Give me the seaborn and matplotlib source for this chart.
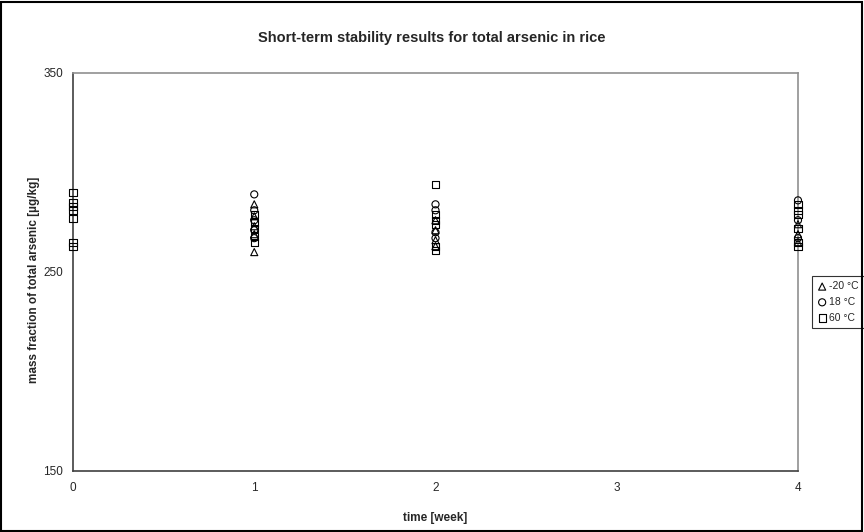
import matplotlib
matplotlib.use("Agg")
import matplotlib.pyplot as plt
import seaborn as sns
import pandas as pd
from matplotlib.patches import Rectangle

# ---- data ----
title = "Short-term stability results for total arsenic in rice"
x_label = "time [week]"
y_label = "mass fraction of total arsenic [µg/kg]"
series_names = ["-20 °C", "18 °C", "60 °C"]
series_markers = ["^", "o", "s"]

t_minus20 = [1, 1, 1, 1, 1, 2, 2, 2, 2, 4, 4, 4]
v_minus20 = [284, 278, 273, 269, 260, 276, 271, 266, 263, 274, 269, 265]

t_18 = [1, 1, 1, 1, 1, 2, 2, 2, 2, 4, 4, 4]
v_18 = [289, 281, 276, 271, 267, 284, 281, 270, 267, 286, 276, 267]

t_60 = [0, 0, 0, 0, 0, 0, 0, 1, 1, 1, 1, 1, 2, 2, 2, 2, 2, 2, 4, 4, 4, 4, 4, 4]
v_60 = [290, 285, 283, 281, 277, 265, 263, 279, 275, 272, 268, 265,
        294, 279, 276, 274, 263, 261, 284, 281, 279, 272, 265, 263]

x_ticks = [0, 1, 2, 3, 4]
y_ticks = [150, 250, 350]

frames = []
for name, t, v in zip(series_names, [t_minus20, t_18, t_60], [v_minus20, v_18, v_60]):
    frames.append(pd.DataFrame({"time": t, "value": v, "series": name}))
df = pd.concat(frames, ignore_index=True)

# ---- figure ----
sns.set_style("white")
plt.rcParams["font.family"] = ["Liberation Sans", "DejaVu Sans"]

fig = plt.figure(figsize=(8.64, 5.32), dpi=100)
ax = fig.add_axes([0.0845, 0.1147, 0.8391, 0.7481])

for name, mk in zip(series_names, series_markers):
    sub = df[df["series"] == name]
    sns.scatterplot(data=sub, x="time", y="value", marker=mk, s=26,
                    facecolors="none", edgecolors="black", linewidths=0.8,
                    label=name, ax=ax, zorder=3, clip_on=False)

ax.set_xlim(0, 4)
ax.set_ylim(150, 350)
ax.set_xticks(x_ticks)
ax.set_yticks(y_ticks)
ax.tick_params(axis="both", labelsize=8.5, length=4, width=0.8, color="#404040",
               direction="out", pad=3)
ax.tick_params(axis="x", direction="inout", length=6, pad=5)

for side in ["left", "bottom"]:
    ax.spines[side].set_color("#404040")
    ax.spines[side].set_linewidth(1.2)
for side in ["top", "right"]:
    ax.spines[side].set_color("#909090")
    ax.spines[side].set_linewidth(1.2)

ax.set_xlabel(x_label, fontsize=8.5, fontweight="bold")
ax.set_ylabel(y_label, fontsize=8.5, fontweight="bold")
ax.xaxis.set_label_coords(0.5, -0.103)
ax.yaxis.set_label_coords(-0.045, 0.48)
fig.text(0.5, 0.9286, title, ha="center", va="center", fontsize=10.5,
         fontweight="bold")

leg = ax.legend(loc="upper left", bbox_to_anchor=(0.9395, 0.481),
                bbox_transform=fig.transFigure, fontsize=7.5, frameon=True,
                fancybox=False, borderpad=0.5, handletextpad=0.15,
                handlelength=1.0, labelspacing=0.55, borderaxespad=0)
leg.get_frame().set_edgecolor("black")
leg.get_frame().set_linewidth(0.8)

fig.patches.append(Rectangle((0.001, 0.002), 0.997, 0.995, transform=fig.transFigure,
                             fill=False, edgecolor="black", linewidth=1.5))

fig.savefig("out.png", dpi=100)
